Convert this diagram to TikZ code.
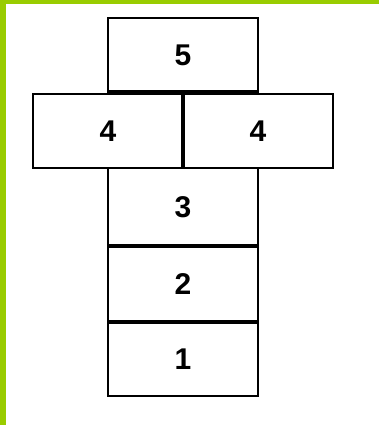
\documentclass[tikz,border=0pt]{standalone}
\usepackage{fontspec}
\setmainfont{Liberation Sans}
\definecolor{bargreen}{RGB}{153,204,0}
\begin{document}
\begin{tikzpicture}[x=1pt,y=1pt,
  blockbox/.style={draw=black, line width=2.2pt, rectangle, inner sep=0pt, outer sep=0pt,
    font=\fontsize{30}{30}\selectfont\bfseries},
]
\useasboundingbox (0,0) rectangle (379,425);
\fill[white] (0,0) rectangle (379,425);
\fill[bargreen] (0,421) rectangle (379,425);
\fill[bargreen] (0,0) rectangle (6,425);
% boxes (y' = 425 - y)
\node[blockbox, minimum width=150pt, minimum height=74pt] (b5) at (183,370) {5};
\node[blockbox, minimum width=150pt, minimum height=74pt] (b4l) at (108,294) {4};
\node[blockbox, minimum width=150pt, minimum height=74pt] (b4r) at (258,294) {4};
\node[blockbox, minimum width=150pt, minimum height=78pt] (b3) at (183,218) {3};
\node[blockbox, minimum width=150pt, minimum height=76pt] (b2) at (183,141) {2};
\node[blockbox, minimum width=150pt, minimum height=74pt] (b1) at (183,66) {1};
% thicker shared edges
\draw[line width=3.2pt] (b5.south west) -- (b5.south east);
\draw[line width=3.2pt] (b4l.north east) -- (b4l.south east);
\draw[line width=3.2pt] (b3.south west) -- (b3.south east);
\draw[line width=3.2pt] (b2.south west) -- (b2.south east);
\end{tikzpicture}
\end{document}
